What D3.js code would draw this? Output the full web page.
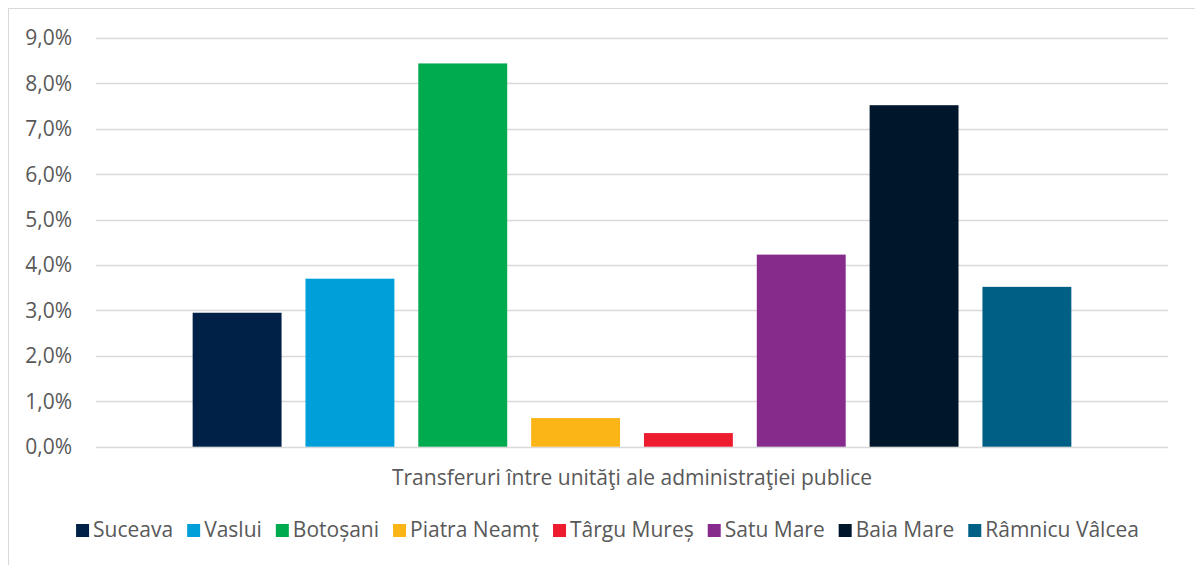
<!DOCTYPE html>
<html>
<head>
<meta charset="utf-8">
<script src="https://cdn.jsdelivr.net/npm/d3@7"></script>
<style>
  body { margin: 0; background: #fff; }
  text { font-family: "Open Sans", sans-serif; fill: #595959; }
</style>
</head>
<body>
<script>
// Canvas size
const w = 1195;
const h = 565;
const fontSize = "21px";

// Data to be displayed
const category = "Transferuri între unităţi ale administraţiei publice";
const cities = [
  "Suceava", "Vaslui", "Botoșani", "Piatra Neamț",
  "Târgu Mureș", "Satu Mare", "Baia Mare", "Râmnicu Vâlcea",
];
const values = [2.95, 3.7, 8.44, 0.63, 0.3, 4.23, 7.52, 3.52];
const colors = [
  "#002147", "#009fda", "#00aa4f", "#fbb517",
  "#ed1c2e", "#862a8c", "#00162b", "#005f84",
];
const yTicks = [0, 1, 2, 3, 4, 5, 6, 7, 8, 9];

// Plot area
const plotLeft = 96, plotRight = 1168, plotTop = 38, plotBottom = 446.7;

const svg = d3.select("body").append("svg").attr("width", w).attr("height", h);

// Outer chart border (only top and left edges fall inside the window)
svg.append("rect")
  .attr("x", 8.5).attr("y", 8.5)
  .attr("width", 1300).attr("height", 700)
  .attr("fill", "none")
  .attr("stroke", "#d9d9d9");

const y = d3.scaleLinear().domain([0, 9]).range([plotBottom, plotTop]);

const x0 = d3.scaleBand()
  .domain([category])
  .range([plotLeft, plotRight])
  .paddingOuter(0.11);

const x1 = d3.scaleBand()
  .domain(cities)
  .range([0, x0.bandwidth()])
  .paddingInner(0.212);

// Gridlines
svg.append("g")
  .selectAll("line")
  .data(yTicks)
  .enter()
  .append("line")
  .attr("x1", plotLeft)
  .attr("x2", plotRight)
  .attr("y1", (d) => Math.round(y(d)) + 0.5)
  .attr("y2", (d) => Math.round(y(d)) + 0.5)
  .attr("stroke", "#d9d9d9")
  .attr("stroke-width", 1.5);

// Y axis labels
svg.append("g")
  .selectAll("text")
  .data(yTicks)
  .enter()
  .append("text")
  .attr("x", 72)
  .attr("y", (d) => y(d))
  .attr("dy", "0.35em")
  .attr("text-anchor", "end")
  .style("font-size", fontSize)
  .text((d) => d.toFixed(1).replace(".", ",") + "%");

// Bars
svg.append("g")
  .selectAll("rect")
  .data(values)
  .enter()
  .append("rect")
  .attr("x", (d, i) => x0(category) + x1(cities[i]))
  .attr("y", (d) => y(d))
  .attr("width", x1.bandwidth())
  .attr("height", (d) => plotBottom - y(d))
  .attr("fill", (d, i) => colors[i]);

// Category label
svg.append("text")
  .attr("x", x0(category) + x0.bandwidth() / 2)
  .attr("y", 478)
  .attr("dy", "0.35em")
  .attr("text-anchor", "middle")
  .style("font-size", fontSize)
  .text(category);

// Legend
const legend = svg.append("g");
let lx = 0;
cities.forEach(function (name, i) {
  const item = legend.append("g").attr("transform", "translate(" + lx + ",0)");
  item.append("rect")
    .attr("x", 0).attr("y", -6)
    .attr("width", 13).attr("height", 13)
    .attr("fill", colors[i]);
  const t = item.append("text")
    .attr("x", 17)
    .attr("dy", "0.35em")
    .style("font-size", fontSize)
    .text(name);
  lx += 17 + t.node().getComputedTextLength() + 14;
});
const legendWidth = lx - 14;
legend.attr("transform", "translate(" + (607.5 - legendWidth / 2) + ",530)");
</script>
</body>
</html>
